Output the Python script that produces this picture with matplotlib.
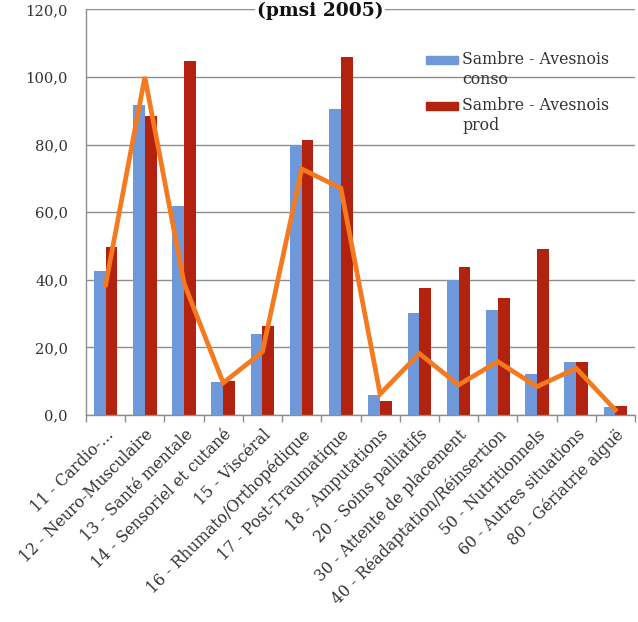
import numpy as np
import matplotlib.pyplot as plt
from matplotlib.patches import Rectangle
from matplotlib.ticker import FuncFormatter, MultipleLocator, FixedLocator

categories = [
    "11 - Cardio-...",
    "12 - Neuro-Musculaire",
    "13 - Santé mentale",
    "14 - Sensoriel et cutané",
    "15 - Viscéral",
    "16 - Rhumato/Orthopédique",
    "17 - Post-Traumatique",
    "18 - Amputations",
    "20 - Soins palliatifs",
    "30 - Attente de placement",
    "40 - Réadaptation/Réinsertion",
    "50 - Nutritionnels",
    "60 - Autres situations",
    "80 - Gériatrie aiguë",
]
conso = [42.7, 91.7, 61.9, 9.9, 24.0, 80.0, 90.6, 5.9, 30.3, 40.0, 31.1, 12.1, 15.8, 2.3]
prod = [49.6, 88.5, 104.6, 10.2, 26.3, 81.3, 106.0, 4.2, 37.7, 43.9, 34.7, 49.0, 15.8, 2.6]
trend = [38.5, 100.0, 39.0, 9.5, 18.7, 72.8, 67.1, 6.2, 18.2, 8.9, 15.8, 8.4, 13.8, 1.5]
legend_labels = [("Sambre - Avesnois", "conso"), ("Sambre - Avesnois", "prod")]

BLUE = "#6F98DA"
RED = "#B3210F"
ORANGE = "#F47A1F"
GRID = "#8E8E8E"
TEXT = "#333333"

plt.rcParams["font.family"] = ["DejaVu Serif"]

W, H = 638, 622
fig = plt.figure(figsize=(W / 100, H / 100), dpi=100)
ax = fig.add_axes([86 / W, 1 - 415 / H, (635 - 86) / W, (415 - 9.4) / H])

x = np.arange(len(categories))
w = 0.3
ax.bar(x - w / 2, conso, width=w, color=BLUE, zorder=2)
ax.bar(x + w / 2, prod, width=w, color=RED, zorder=2)
ax.plot(x, trend, color=ORANGE, lw=3.4, solid_joinstyle="miter", zorder=3)

ax.set_xlim(-0.5, len(categories) - 0.5)
ax.set_ylim(0, 120)
ax.yaxis.set_major_locator(MultipleLocator(20))
ax.yaxis.set_major_formatter(FuncFormatter(lambda v, p: f"{v:.1f}".replace(".", ",")))
ax.grid(axis="y", color=GRID, lw=1.0, zorder=0)
ax.set_axisbelow(True)

for s in ("top", "right"):
    ax.spines[s].set_visible(False)
for s in ("left", "bottom"):
    ax.spines[s].set_color(GRID)
    ax.spines[s].set_linewidth(1.0)

ax.tick_params(axis="y", length=0, pad=13, labelsize=10.6, labelcolor=TEXT)
ax.set_xticks(x)
ax.set_xticklabels(categories, rotation=45, ha="right", rotation_mode="anchor",
                   fontsize=11.3, color=TEXT)
ax.tick_params(axis="x", which="major", length=0, pad=8)
ax.xaxis.set_minor_locator(FixedLocator(np.arange(-0.5, len(categories), 1.0)))
ax.tick_params(axis="x", which="minor", length=5, width=1, color=GRID, direction="out")

# legend: swatch aligned with the first line of each two-line label
for (line1, line2), color, ytop in zip(legend_labels, [BLUE, RED], [56, 102]):
    fig.patches.append(Rectangle((426 / W, 1 - (ytop + 8) / H), 32 / W, 8 / H,
                                 transform=fig.transFigure, color=color, zorder=5))
    fig.text(462 / W, 1 - (ytop + 4) / H, line1, ha="left", va="center",
             fontsize=11.3, color=TEXT)
    fig.text(462 / W, 1 - (ytop + 24) / H, line2, ha="left", va="center",
             fontsize=11.3, color=TEXT)

fig.text(320 / W, 1 - 1.5 / H, "(pmsi 2005)", ha="center", va="top",
         fontsize=13.5, fontweight="bold", color="#111111",
         bbox=dict(facecolor="white", edgecolor="none", pad=1))

fig.savefig("out.png", dpi=100)
